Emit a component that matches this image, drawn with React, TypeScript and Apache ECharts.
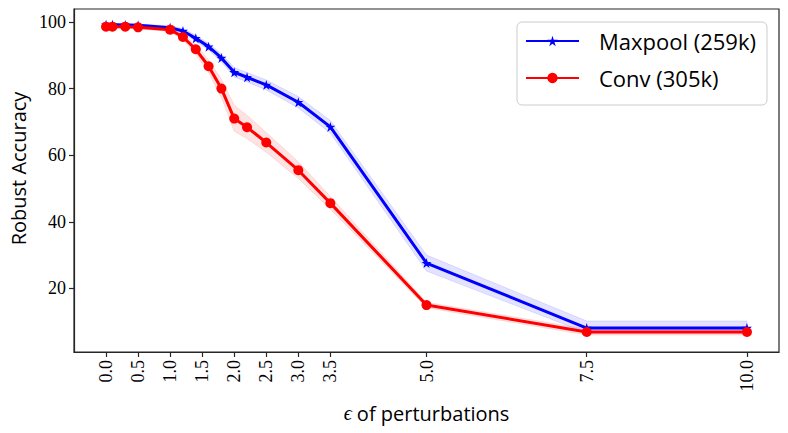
import React, { useEffect, useRef } from "react";
import * as echarts from "echarts";

const xValues = [0, 0.1, 0.3, 0.5, 1.0, 1.2, 1.4, 1.6, 1.8, 2.0, 2.2, 2.5, 3.0, 3.5, 5.0, 7.5, 10.0];
const maxpoolMean = [99.2, 99.2, 99.1, 99.0, 98.3, 97.3, 95.1, 92.6, 89.2, 84.9, 83.4, 81.1, 75.9, 68.5, 27.6, 8.1, 8.1];
const maxpoolLower = [98.8, 98.8, 98.7, 98.6, 97.8, 96.6, 94.2, 91.6, 88.0, 83.5, 82.0, 79.6, 74.2, 66.6, 25.2, 6.6, 6.6];
const maxpoolUpper = [99.6, 99.6, 99.5, 99.4, 98.8, 98.0, 96.0, 93.6, 90.4, 86.3, 84.8, 82.6, 77.6, 70.4, 30.0, 10.2, 10.2];
const convMean = [98.6, 98.6, 98.6, 98.4, 97.7, 95.5, 91.8, 86.7, 80.0, 71.0, 68.4, 63.8, 55.5, 45.6, 15.0, 6.9, 6.9];
const convLower = [98.2, 98.2, 98.2, 98.0, 97.1, 94.6, 90.4, 84.8, 77.3, 67.2, 65.0, 60.9, 53.0, 43.8, 14.2, 6.0, 6.0];
const convUpper = [99.0, 99.0, 99.0, 98.8, 98.3, 96.4, 93.2, 88.6, 82.8, 75.0, 72.0, 66.8, 58.0, 47.6, 15.8, 7.8, 7.8];

const xTicks = [0, 0.5, 1.0, 1.5, 2.0, 2.5, 3.0, 3.5, 5.0, 7.5, 10.0];
const yTicks = [20, 40, 60, 80, 100];

const seriesNames = ["Maxpool (259k)", "Conv (305k)"];

const STAR = "path://M50 0 L61.2 34.5 L97.6 34.5 L68.2 55.9 L79.4 90.5 L50 69.1 L20.6 90.5 L31.8 55.9 L2.4 34.5 L38.8 34.5 Z";

const pairs = (ys: number[]) => xValues.map((x, i) => [x, ys[i]]);

const SERIF = "'Liberation Serif', 'DejaVu Serif', serif";
const SANS = "'Open Sans', 'DejaVu Sans', sans-serif";

export default function App() {
  const ref = useRef<HTMLDivElement>(null);
  useEffect(() => {
    if (!ref.current) return;
    const chart = echarts.init(ref.current, null, { renderer: "svg" });
    const band = (name: string, lo: number[], hi: number[], color: string) => ({
      name,
      type: "custom",
      silent: true,
      clip: true,
      z: 1,
      data: [[0, 0]],
      renderItem: (_params: any, api: any) => {
        const top = xValues.map((x, i) => api.coord([x, hi[i]]));
        const bottom = xValues.map((x, i) => api.coord([x, lo[i]])).reverse();
        return {
          type: "polygon",
          shape: { points: top.concat(bottom) },
          style: { fill: color, stroke: color, lineWidth: 1 },
        };
      },
    });
    const tickStyle = { color: "#262626", width: 1.2 };
    chart.setOption({
      animation: false,
      grid: {
        left: 74,
        top: 9,
        right: 9,
        bottom: 81,
        show: true,
        borderColor: "#262626",
        borderWidth: 1.2,
        backgroundColor: "transparent",
      },
      legend: {
        data: seriesNames,
        orient: "vertical",
        left: 517,
        top: 22,
        itemWidth: 53,
        itemHeight: 13,
        itemGap: 13,
        padding: [7, 11, 15, 8],
        backgroundColor: "#ffffff",
        borderColor: "#cccccc",
        borderWidth: 1,
        borderRadius: 5,
        textStyle: {
          fontFamily: SANS,
          fontSize: 22,
          lineHeight: 24,
          color: "#000",
          padding: [0, 0, 0, 15],
        },
      },
      xAxis: {
        type: "value",
        min: -0.5,
        max: 10.5,
        name: "{e|ϵ} of perturbations",
        nameLocation: "middle",
        nameGap: 51,
        nameTextStyle: {
          fontFamily: SANS,
          fontSize: 20,
          color: "#000",
          rich: {
            e: { fontFamily: SERIF, fontSize: 20, fontStyle: "italic", color: "#000" },
          },
        },
        axisLine: { show: true, onZero: false, lineStyle: tickStyle },
        splitLine: { show: false },
        axisTick: { show: true, customValues: xTicks, length: 5, lineStyle: tickStyle },
        axisLabel: {
          customValues: xTicks,
          rotate: 90,
          fontFamily: SERIF,
          fontSize: 18,
          color: "#000",
          margin: 8,
          formatter: (v: number) => v.toFixed(1),
        },
      },
      yAxis: {
        type: "value",
        min: 0.9,
        max: 103.9,
        name: "Robust Accuracy",
        nameLocation: "middle",
        nameGap: 46,
        nameTextStyle: { fontFamily: SANS, fontSize: 20, color: "#000", padding: [0, 0, 0, 24] },
        axisLine: { show: true, onZero: false, lineStyle: tickStyle },
        splitLine: { show: false },
        axisTick: { show: true, customValues: yTicks, length: 5, lineStyle: tickStyle },
        axisLabel: {
          customValues: yTicks,
          fontFamily: SERIF,
          fontSize: 18,
          color: "#000",
          margin: 8,
          formatter: (v: number) => String(v),
        },
      },
      series: [
        band("mp_band", maxpoolLower, maxpoolUpper, "rgba(0,0,255,0.11)"),
        band("cv_band", convLower, convUpper, "rgba(255,0,0,0.11)"),
        {
          name: seriesNames[0],
          type: "line",
          data: pairs(maxpoolMean),
          symbol: STAR,
          symbolSize: 10,
          showAllSymbol: true,
          itemStyle: { color: "#0000ff" },
          lineStyle: { color: "#0000ff", width: 3 },
          z: 3,
        },
        {
          name: seriesNames[1],
          type: "line",
          data: pairs(convMean),
          symbol: "circle",
          symbolSize: 10,
          showAllSymbol: true,
          itemStyle: { color: "#ff0000" },
          lineStyle: { color: "#ff0000", width: 3 },
          z: 4,
        },
      ],
    });
    return () => chart.dispose();
  }, []);
  return (
    <div
      ref={ref}
      style={{ position: "fixed", left: 0, top: 0, width: 788, height: 433, background: "#fff" }}
    />
  );
}
